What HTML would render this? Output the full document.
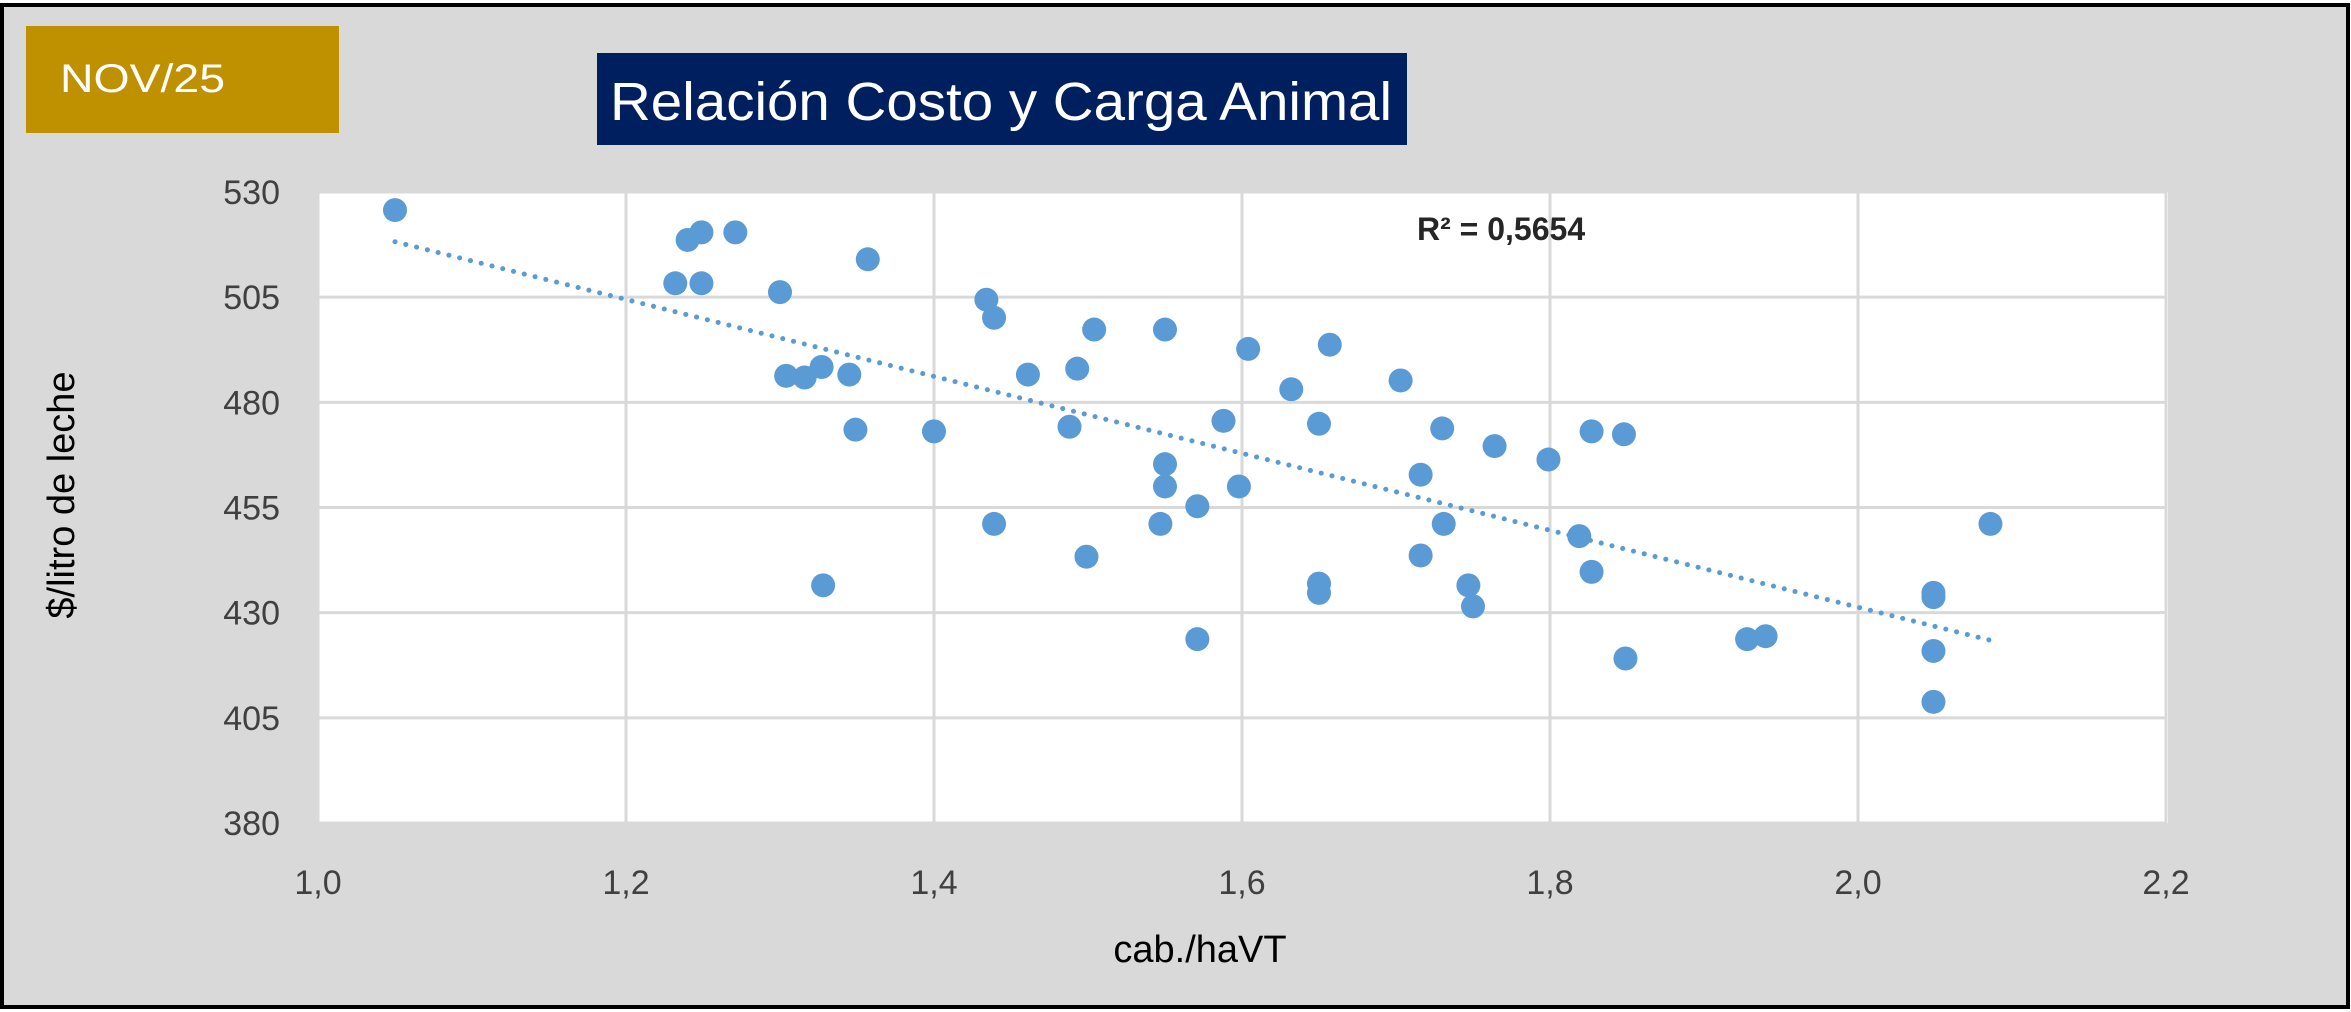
<!DOCTYPE html>
<html><head><meta charset="utf-8"><style>
html,body{margin:0;padding:0;background:#fff;}
svg{display:block;font-family:"Liberation Sans",sans-serif;}
</style></head><body>
<svg id="chart" width="2351" height="1012" viewBox="0 0 2351 1012">
<rect x="2" y="5" width="2346" height="1002" fill="#d9d9d9" stroke="#000" stroke-width="4"/>
<rect x="26" y="26" width="313" height="107" fill="#bf9000"/>
<text x="60" y="92" font-size="40" fill="#fff" textLength="165" lengthAdjust="spacingAndGlyphs">NOV/25</text>
<rect x="597" y="53" width="810" height="92" fill="#001f5f"/>
<text x="610" y="120" font-size="54" fill="#fff" textLength="782" lengthAdjust="spacingAndGlyphs">Relación Costo y Carga Animal</text>
<rect x="318" y="192" width="1850" height="631" fill="#fff"/>
<g id="grid"></g>
<g id="ticks"></g>
<g id="trend"></g>
<g id="points"></g>
<text x="1417" y="240" font-size="32" font-weight="bold" fill="#262626">R² = 0,5654</text>
<text x="1200" y="962" font-size="38" fill="#000" text-anchor="middle">cab./haVT</text>
<text x="0" y="0" font-size="38" fill="#000" text-anchor="middle" transform="translate(74,495) rotate(-90)">$/litro de leche</text>
</svg>
<script>
const xTicks = [1.0, 1.2, 1.4, 1.6, 1.8, 2.0, 2.2];
const xTickLabels = ["1,0","1,2","1,4","1,6","1,8","2,0","2,2"];
const yTicks = [380, 405, 430, 455, 480, 505, 530];
const yTickLabels = ["380","405","430","455","480","505","530"];
const xValues = [1.050,1.240,1.249,1.271,1.232,1.249,1.300,1.357,1.434,1.439,1.504,1.550,1.304,1.316,1.327,1.345,1.461,1.493,1.604,1.657,1.632,1.703,1.349,1.400,1.488,1.588,1.650,1.730,1.764,1.799,1.827,1.848,1.550,1.550,1.598,1.571,1.716,1.439,1.547,1.731,1.819,2.086,1.499,1.716,1.827,1.328,1.650,1.650,1.747,1.750,2.049,2.049,1.571,1.928,1.940,1.849,2.049,2.049];
const yValues = [525.7,518.6,520.4,520.4,508.3,508.3,506.2,514.0,504.4,500.1,497.3,497.3,486.3,485.9,488.4,486.6,486.6,488.0,492.7,493.7,483.1,485.2,473.5,473.1,474.2,475.6,474.9,473.8,469.6,466.4,473.1,472.4,465.3,460.0,460.0,455.3,462.8,451.1,451.1,451.1,448.2,451.1,443.3,443.6,439.7,436.5,436.9,434.7,436.5,431.5,434.7,433.7,423.7,423.7,424.4,419.1,420.9,408.8];
const NS="http://www.w3.org/2000/svg";
const X0=318,X1=2166,Y0=823,Y1=192;
function sx(v){return X0+(v-1.0)/(2.2-1.0)*(X1-X0);}
function sy(v){return Y0-(v-380)/(530-380)*(Y0-Y1);}
function mk(t,a,p){const e=document.createElementNS(NS,t);for(const k in a)e.setAttribute(k,a[k]);p.appendChild(e);return e;}
const grid=document.getElementById('grid'),ticks=document.getElementById('ticks');
xTicks.forEach((v,i)=>{
  const l=mk('line',{x1:sx(v),x2:sx(v),y1:Y1,y2:Y0,stroke:'#d9d9d9','stroke-width':3},grid);
  
  
  const t=mk('text',{x:sx(v),y:894,'font-size':34,fill:'#404040','text-anchor':'middle'},ticks);
  t.textContent=xTickLabels[i];
  
  
});
yTicks.forEach((v,i)=>{
  const l=mk('line',{x1:X0,x2:X1,y1:sy(v),y2:sy(v),stroke:'#d9d9d9','stroke-width':3},grid);
  
  
  const t=mk('text',{x:280,y:sy(v)+12,'font-size':34,fill:'#404040','text-anchor':'end'},ticks);
  t.textContent=yTickLabels[i];
  
  
});
const n=xValues.length;let mx=0,my=0;
for(let i=0;i<n;i++){mx+=xValues[i];my+=yValues[i];}mx/=n;my/=n;
let sxy=0,sxx=0;for(let i=0;i<n;i++){sxy+=(xValues[i]-mx)*(yValues[i]-my);sxx+=(xValues[i]-mx)**2;}
const b=sxy/sxx,a=my-b*mx;
const xmin=Math.min(...xValues),xmax=Math.max(...xValues);
const tl=mk('line',{x1:sx(xmin),y1:sy(a+b*xmin),x2:sx(xmax),y2:sy(a+b*xmax),stroke:'#5b9bd5','stroke-width':5,'stroke-linecap':'round','stroke-dasharray':'0.1 11'},document.getElementById('trend'));


const pg=document.getElementById('points');
for(let i=0;i<n;i++){
  const c=mk('circle',{cx:sx(xValues[i]),cy:sy(yValues[i]),r:12,fill:'#5b9bd5'},pg);
  
  
}
</script>
</body></html>
